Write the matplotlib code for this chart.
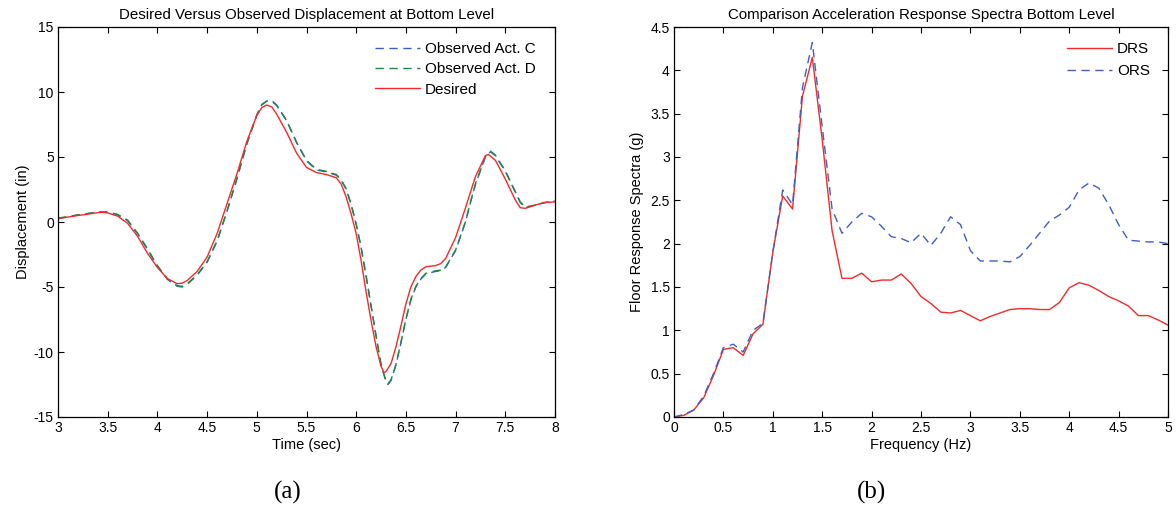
import matplotlib
matplotlib.use("Agg")
import matplotlib.pyplot as plt

plt.rcParams['font.family'] = ['Liberation Sans', 'DejaVu Sans']

# ---- Displacement time histories (left panel) ----
time_obs = [3.0, 3.1, 3.2, 3.3, 3.4, 3.5, 3.6, 3.7, 3.8, 3.9, 4.0, 4.1, 4.2, 4.25,
            4.3, 4.4, 4.5, 4.6, 4.7, 4.8, 4.9, 5.0, 5.05, 5.1, 5.15, 5.2, 5.3, 5.4,
            5.5, 5.6, 5.7, 5.8, 5.85, 5.9, 5.95, 6.0, 6.05, 6.1, 6.15, 6.2, 6.25,
            6.3, 6.32, 6.35, 6.4, 6.45, 6.5, 6.55, 6.6, 6.65, 6.7, 6.8, 6.85, 6.9,
            7.0, 7.1, 7.15, 7.2, 7.3, 7.35, 7.4, 7.5, 7.6, 7.65, 7.7, 7.8, 7.9, 8.0]
obs_act_c = [0.3, 0.4, 0.55, 0.65, 0.75, 0.75, 0.55, 0.1, -0.9, -2.1, -3.4, -4.4,
             -4.95, -5.0, -4.8, -4.1, -3.1, -1.5, 0.8, 3.3, 6.0, 8.2, 9.0, 9.3, 9.35,
             9.0, 7.8, 6.1, 4.7, 4.0, 3.85, 3.6, 3.2, 2.5, 1.3, -0.2, -2.0, -4.2,
             -6.5, -8.8, -11.0, -12.3, -12.5, -12.2, -11.0, -9.3, -7.5, -6.0, -5.0,
             -4.4, -4.0, -3.8, -3.75, -3.5, -2.2, 0.0, 1.5, 2.9, 5.0, 5.4, 5.1, 3.9,
             2.3, 1.5, 1.1, 1.3, 1.5, 1.6]
obs_act_d = [0.3, 0.4, 0.55, 0.65, 0.78, 0.78, 0.58, 0.15, -0.85, -2.05, -3.35,
             -4.4, -4.9, -4.95, -4.75, -4.05, -3.05, -1.45, 0.85, 3.35, 6.05, 8.25,
             9.05, 9.3, 9.3, 8.95, 7.8, 6.15, 4.75, 4.05, 3.9, 3.65, 3.25, 2.55, 1.35,
             -0.15, -1.95, -4.15, -6.45, -8.75, -10.95, -12.25, -12.45, -12.15,
             -10.95, -9.25, -7.45, -5.95, -4.95, -4.35, -3.95, -3.75, -3.7, -3.45,
             -2.15, 0.05, 1.55, 2.95, 5.05, 5.45, 5.15, 3.95, 2.35, 1.55, 1.15, 1.3,
             1.5, 1.6]

time_des = [3.0, 3.1, 3.2, 3.3, 3.4, 3.45, 3.5, 3.6, 3.7, 3.8, 3.9, 4.0, 4.1, 4.2,
            4.25, 4.3, 4.4, 4.5, 4.6, 4.7, 4.8, 4.9, 5.0, 5.05, 5.1, 5.15, 5.2, 5.3,
            5.4, 5.5, 5.6, 5.7, 5.8, 5.85, 5.9, 5.95, 6.0, 6.05, 6.1, 6.15, 6.2,
            6.25, 6.28, 6.3, 6.35, 6.4, 6.45, 6.5, 6.55, 6.6, 6.65, 6.7, 6.8, 6.85,
            6.9, 7.0, 7.1, 7.2, 7.3, 7.33, 7.4, 7.5, 7.6, 7.65, 7.7, 7.8, 7.9, 8.0]
desired = [0.25, 0.38, 0.5, 0.6, 0.72, 0.75, 0.7, 0.45, -0.1, -1.1, -2.4, -3.5,
           -4.35, -4.75, -4.7, -4.5, -3.8, -2.7, -0.9, 1.4, 3.7, 6.2, 8.2, 8.8, 9.0,
           8.85, 8.3, 6.9, 5.3, 4.2, 3.8, 3.65, 3.4, 2.9, 1.9, 0.6, -0.9, -3.0, -5.4,
           -7.6, -9.6, -11.1, -11.6, -11.5, -10.9, -9.6, -8.0, -6.3, -5.0, -4.2,
           -3.7, -3.45, -3.35, -3.2, -2.8, -1.2, 1.1, 3.5, 5.1, 5.2, 4.75, 3.3, 1.7,
           1.1, 1.05, 1.3, 1.5, 1.55]

# ---- Floor response spectra (right panel) ----
freq = [round(0.1 * i, 1) for i in range(51)]
drs = [0.0, 0.02, 0.08, 0.22, 0.48, 0.78, 0.80, 0.71, 0.96, 1.07, 1.9, 2.55, 2.4,
       3.7, 4.15, 3.2, 2.15, 1.6, 1.6, 1.66, 1.56, 1.58, 1.58, 1.65, 1.54, 1.39,
       1.31, 1.21, 1.2, 1.23, 1.17, 1.11, 1.16, 1.2, 1.24, 1.25, 1.25, 1.24, 1.24,
       1.32, 1.49, 1.55, 1.52, 1.46, 1.39, 1.34, 1.28, 1.17, 1.17, 1.12, 1.06]
ors = [0.0, 0.03, 0.08, 0.24, 0.5, 0.8, 0.84, 0.75, 1.0, 1.08, 1.9, 2.62, 2.45,
       3.8, 4.32, 3.35, 2.4, 2.12, 2.25, 2.35, 2.31, 2.2, 2.08, 2.06, 2.01, 2.12,
       1.98, 2.12, 2.31, 2.22, 1.92, 1.8, 1.8, 1.8, 1.79, 1.85, 1.98, 2.12, 2.26,
       2.33, 2.42, 2.62, 2.7, 2.64, 2.45, 2.22, 2.04, 2.03, 2.02, 2.02, 2.0]

left_xticks = [3, 3.5, 4, 4.5, 5, 5.5, 6, 6.5, 7, 7.5, 8]
left_yticks = [-15, -10, -5, 0, 5, 10, 15]
right_xticks = [0, 0.5, 1, 1.5, 2, 2.5, 3, 3.5, 4, 4.5, 5]
right_yticks = [0, 0.5, 1, 1.5, 2, 2.5, 3, 3.5, 4, 4.5]

BLUE = '#3d5fc4'
GREEN = '#1b8a3c'
RED = '#f22a2a'
DASH = (0, (6, 4))

fig = plt.figure(figsize=(11.76, 5.08), dpi=100)
ax1 = fig.add_axes([58 / 1176, 1 - 417 / 508, 497 / 1176, 390 / 508])
ax2 = fig.add_axes([674 / 1176, 1 - 417 / 508, 494 / 1176, 390 / 508])


def style(ax, xt, yt):
    ax.set_xticks(xt)
    ax.set_yticks(yt)
    ax.set_xticklabels(['%g' % v for v in xt])
    ax.set_yticklabels(['%g' % v for v in yt])
    ax.tick_params(direction='in', length=4, width=0.8, top=True, right=True,
                   labelsize=10, pad=3, colors='black')
    for s in ax.spines.values():
        s.set_linewidth(0.9)


def add_legend(ax, right_px, top_px, spacing):
    w = ax.bbox.width
    h = ax.bbox.height
    ax.legend(loc='upper right', frameon=False, fontsize=11,
              handlelength=2.95, handletextpad=0.35, labelspacing=spacing,
              borderpad=0, borderaxespad=0,
              bbox_to_anchor=(1 - right_px / w, 1 - top_px / h))


ax1.plot(time_obs, obs_act_c, color=BLUE, lw=1.0, ls=DASH, label='Observed Act. C')
ax1.plot(time_obs, obs_act_d, color=GREEN, lw=1.0, ls=DASH, label='Observed Act. D')
ax1.plot(time_des, desired, color=RED, lw=1.0, label='Desired')
ax1.set_xlim(3, 8)
ax1.set_ylim(-15, 15)
style(ax1, left_xticks, left_yticks)
ax1.set_title('Desired Versus Observed Displacement at Bottom Level', fontsize=10.8, pad=6)
ax1.set_xlabel('Time (sec)', fontsize=10.5, labelpad=2)
ax1.set_ylabel('Displacement (in)', fontsize=10.5, labelpad=3)
add_legend(ax1, 19, 15, 0.42)

ax2.plot(freq, drs, color=RED, lw=1.0, label='DRS')
ax2.plot(freq, ors, color=BLUE, lw=1.0, ls=DASH, label='ORS')
ax2.set_xlim(0, 5)
ax2.set_ylim(0, 4.5)
style(ax2, right_xticks, right_yticks)
ax2.set_title('Comparison Acceleration Response Spectra Bottom Level', fontsize=10.8, pad=6)
ax2.set_xlabel('Frequency (Hz)', fontsize=10.5, labelpad=2)
ax2.set_ylabel('Floor Response Spectra (g)', fontsize=10.5, labelpad=5)
add_legend(ax2, 18, 15, 0.52)

fig.text(288 / 1176, 1 - 492 / 508, '(a)', ha='center', va='center',
         fontsize=18, family=['Liberation Serif', 'DejaVu Serif'])
fig.text(871 / 1176, 1 - 492 / 508, '(b)', ha='center', va='center',
         fontsize=18, family=['Liberation Serif', 'DejaVu Serif'])

fig.savefig('out.png', dpi=100)
